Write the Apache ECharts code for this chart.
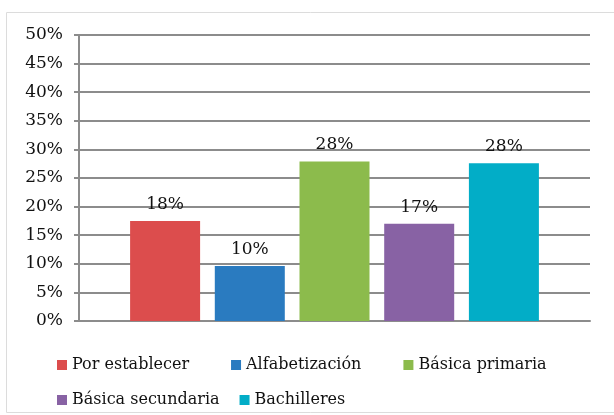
<!DOCTYPE html>
<html>
<head>
<meta charset="utf-8">
<script src="https://cdn.jsdelivr.net/npm/echarts@6/dist/echarts.min.js"></script>
<style>
  html, body { margin: 0; padding: 0; background: #fff; }
  #chart { width: 614px; height: 415px; }
</style>
</head>
<body>
<div id="chart"></div>
<script>
// niveles educativos (una serie por barra, como en Excel)
var niveles = ['Por establecer', 'Alfabetización', 'Básica primaria', 'Básica secundaria', 'Bachilleres'];
var porcentajes = [17.5, 9.6, 27.9, 17.0, 27.6];
var colores = ['#DC4D4D', '#2A7BC0', '#8CBB4C', '#8862A4', '#02ADC7'];
var yTicks = [0, 5, 10, 15, 20, 25, 30, 35, 40, 45, 50];

var fuente = 'DejaVu Serif';
var gris = '#8c8c8c';

var chart = echarts.init(document.getElementById('chart'));

var series = niveles.map(function (n, i) {
    return {
        name: n,
        type: 'bar',
        data: [porcentajes[i]],
        barWidth: 70,
        barGap: '21%',
        itemStyle: { color: colores[i] },
        label: {
            show: true,
            position: 'top',
            distance: 8,
            fontFamily: fuente,
            fontSize: 17,
            color: '#111',
            formatter: function (p) { return Math.round(p.value) + '%' }
        }
    }
})

chart.setOption({
    animation: false,
    graphic: [{
        type: 'rect',
        shape: { x: 6.5, y: 12.5, width: 640, height: 400 },
        style: { fill: 'none', stroke: '#dcdcdc', lineWidth: 1 }
    }],
    legend: [
        {
            data: niveles.slice(0, 3),
            left: 52,
            top: 352,
            itemWidth: 10,
            itemHeight: 10,
            itemGap: 42,
            icon: 'rect',
            textStyle: { fontFamily: fuente, fontSize: 16, color: '#111' }
        },
        {
            data: niveles.slice(3),
            left: 52,
            top: 387,
            itemWidth: 10,
            itemHeight: 10,
            itemGap: 20,
            icon: 'rect',
            textStyle: { fontFamily: fuente, fontSize: 16, color: '#111' }
        }
    ],
    grid: { //área del gráfico
        left: 79,
        right: 24,
        top: 35,
        bottom: 94
    },
    xAxis: {
        type: 'category',
        data: [''],
        axisLine: { show: true, lineStyle: { color: gris, width: 2 } },
        axisTick: { show: false },
        axisLabel: { show: false }
    },
    yAxis: {
        type: 'value',
        min: yTicks[0],
        max: yTicks[yTicks.length - 1],
        interval: 5,
        axisLine: { show: true, lineStyle: { color: gris, width: 2 } },
        axisTick: { show: true, length: 5, lineStyle: { color: gris, width: 2 } },
        axisLabel: {
            formatter: '{value}%',
            margin: 16,
            fontFamily: fuente,
            fontSize: 17,
            color: '#111'
        },
        splitLine: { lineStyle: { color: gris, width: 2 } }
    },
    series: series
})
</script>
</body>
</html>
